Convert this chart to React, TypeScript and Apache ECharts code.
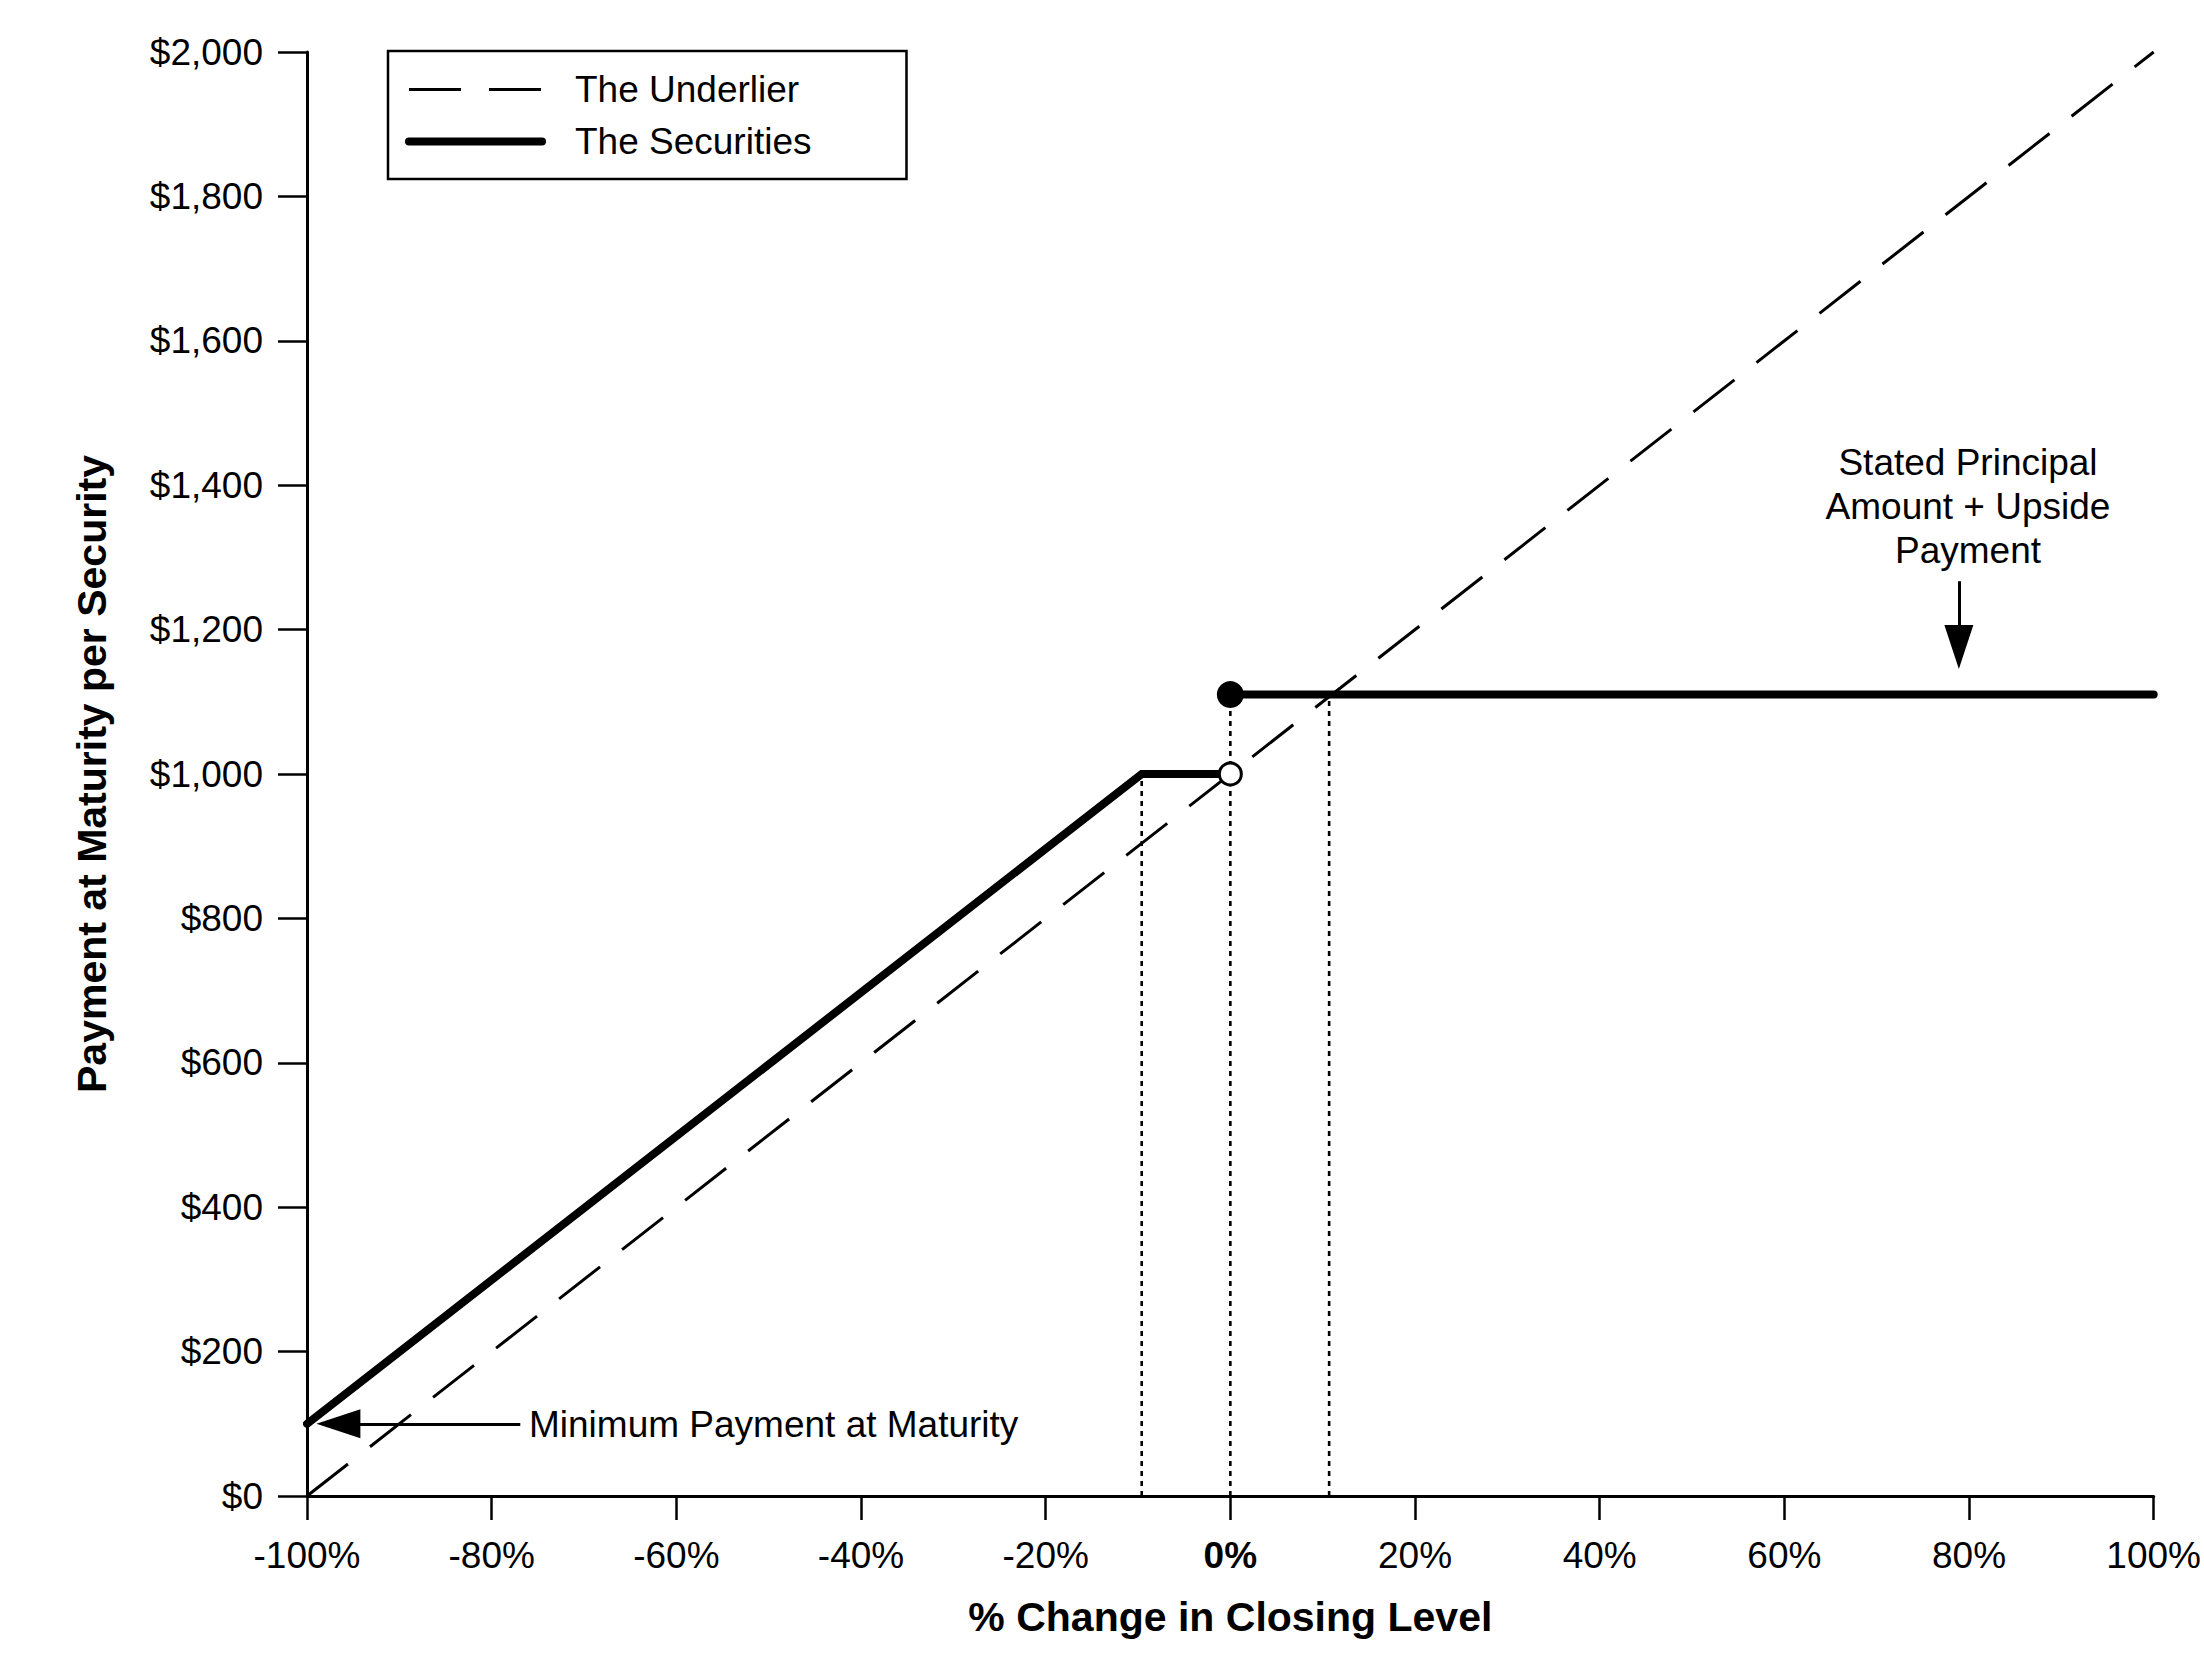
import React, { useEffect, useRef } from "react";
import * as echarts from "echarts";

const FONT = "'Liberation Sans', Arial, Helvetica, sans-serif";

// Axis ranges and tick spacing
const xRange = [-100, 100];
const xStep = 20;
const yRange = [0, 2000];
const yStep = 200;

// The Underlier (dashed diagonal)
const underlierX = [-100, 100];
const underlierY = [0, 2000];

// The Securities (thick solid), two pieces
const securitiesLowX = [-100, -9.6, 0];
const securitiesLowY = [100, 1000, 1000];
const securitiesHighX = [0, 100];
const securitiesHighY = [1110, 1110];

// Dotted vertical guide lines
const guideX = [-9.6, 0, 10.7];
const guideTopY = [1000, 1110, 1110];

// Markers
const openPoint = [0, 1000];
const closedPoint = [0, 1110];

// Annotation arrows (start, end) in data units
const minArrowFrom = [-76.9, 100];
const minArrowTo = [-96.6, 100];
const upArrowFrom = [78.9, 1267];
const upArrowTo = [78.9, 1176];

const minPaymentText = "Minimum Payment at Maturity";
const upsideText = "Stated Principal\nAmount + Upside\nPayment";

const zip = (xs: number[], ys: number[]) => xs.map((x, i) => [x, ys[i]]);

export default function App() {
  const ref = useRef<HTMLDivElement>(null);

  useEffect(() => {
    if (!ref.current) return;
    const chart = echarts.init(ref.current, null, { renderer: "svg" });

    const guideSeries = guideX.map((x, i) => ({
      name: "guide" + i,
      type: "line",
      data: [
        [x, 0],
        [x, guideTopY[i]],
      ],
      symbol: "none",
      silent: true,
      z: 2,
      lineStyle: { color: "#000", width: 2.6, type: [5, 5] },
    }));

    const hiddenSymbol = { color: "transparent", borderWidth: 0, opacity: 0 };

    const option: any = {
      animation: false,
      backgroundColor: "#fff",
      textStyle: { fontFamily: FONT },
      grid: { left: 307, right: 39, top: 52, bottom: 171, containLabel: false },
      legend: {
        orient: "vertical",
        left: 388,
        top: 51,
        padding: [20, 95, 19, 17],
        itemGap: 15,
        itemWidth: 133,
        itemHeight: 14,
        borderColor: "#000",
        borderWidth: 2.5,
        borderRadius: 0,
        backgroundColor: "#fff",
        selectedMode: false,
        itemStyle: hiddenSymbol,
        textStyle: { fontSize: 37, color: "#000", fontFamily: FONT, padding: [0, 0, 0, 28] },
        data: [
          {
            name: "The Underlier",
            itemStyle: hiddenSymbol,
            lineStyle: { width: 3, type: [52, 28], color: "#000" },
          },
          {
            name: "The Securities",
            itemStyle: hiddenSymbol,
            lineStyle: { width: 8, color: "#000", cap: "round", type: "solid" },
          },
        ],
      },
      xAxis: {
        type: "value",
        min: xRange[0],
        max: xRange[1],
        interval: xStep,
        name: "% Change in Closing Level",
        nameLocation: "middle",
        nameGap: 100,
        nameTextStyle: { fontSize: 41, fontWeight: "bold", color: "#000", fontFamily: FONT },
        axisLine: { show: true, onZero: false, lineStyle: { color: "#000", width: 3 } },
        axisTick: { show: true, length: 24, lineStyle: { color: "#000", width: 2.5 } },
        splitLine: { show: false },
        axisLabel: {
          margin: 41,
          fontSize: 37,
          color: "#000",
          fontFamily: FONT,
          formatter: (v: number) => (v === 0 ? "{b|0%}" : v + "%"),
          rich: { b: { fontWeight: "bold", fontSize: 37, color: "#000", fontFamily: FONT } },
        },
      },
      yAxis: {
        type: "value",
        min: yRange[0],
        max: yRange[1],
        interval: yStep,
        name: "Payment at Maturity per Security",
        nameLocation: "middle",
        nameGap: 195,
        nameTextStyle: { fontSize: 41, fontWeight: "bold", color: "#000", fontFamily: FONT },
        axisLine: { show: true, onZero: false, lineStyle: { color: "#000", width: 3 } },
        axisTick: { show: true, length: 29, lineStyle: { color: "#000", width: 2.5 } },
        splitLine: { show: false },
        axisLabel: {
          margin: 44,
          fontSize: 37,
          color: "#000",
          fontFamily: FONT,
          formatter: (v: number) => "$" + v.toLocaleString("en-US"),
        },
      },
      series: [
        {
          name: "The Underlier",
          type: "line",
          data: zip(underlierX, underlierY),
          symbol: "none",
          silent: true,
          z: 2,
          itemStyle: { color: "#000" },
          lineStyle: { color: "#000", width: 3, type: [52, 28] },
        },
        ...guideSeries,
        {
          name: "The Securities",
          type: "line",
          data: zip(securitiesLowX, securitiesLowY),
          symbol: "none",
          silent: true,
          z: 3,
          itemStyle: { color: "#000" },
          lineStyle: { color: "#000", width: 8, cap: "round", join: "miter" },
        },
        {
          name: "The Securities",
          type: "line",
          data: zip(securitiesHighX, securitiesHighY),
          symbol: "none",
          silent: true,
          z: 3,
          itemStyle: { color: "#000" },
          lineStyle: { color: "#000", width: 8, cap: "round" },
        },
        {
          name: "open",
          type: "scatter",
          data: [openPoint],
          symbol: "circle",
          symbolSize: 22,
          silent: true,
          z: 5,
          itemStyle: { color: "#fff", borderColor: "#000", borderWidth: 3, opacity: 1 },
        },
        {
          name: "closed",
          type: "scatter",
          data: [closedPoint],
          symbol: "circle",
          symbolSize: 27,
          silent: true,
          z: 5,
          itemStyle: { color: "#000", opacity: 1 },
          markLine: {
            silent: true,
            animation: false,
            symbol: ["none", "triangle"],
            symbolSize: [29, 44],
            label: { show: false },
            lineStyle: { color: "#000", width: 3, type: "solid" },
            emphasis: { disabled: true },
            data: [
              [{ coord: minArrowFrom }, { coord: minArrowTo }],
              [{ coord: upArrowFrom }, { coord: upArrowTo }],
            ],
          },
        },
      ],
      graphic: [
        {
          type: "text",
          x: 529,
          y: 1424,
          silent: true,
          style: {
            text: minPaymentText,
            fontSize: 37,
            fontFamily: FONT,
            fill: "#000",
            align: "left",
            verticalAlign: "middle",
          },
        },
        {
          type: "text",
          x: 1968,
          y: 506,
          silent: true,
          style: {
            text: upsideText,
            fontSize: 37,
            fontFamily: FONT,
            fill: "#000",
            align: "center",
            verticalAlign: "middle",
            lineHeight: 44,
          },
        },
      ],
    };

    chart.setOption(option);
    return () => chart.dispose();
  }, []);

  return (
    <div
      ref={ref}
      style={{ position: "absolute", left: 0, top: 0, width: 2204, height: 1667, background: "#fff" }}
    />
  );
}
